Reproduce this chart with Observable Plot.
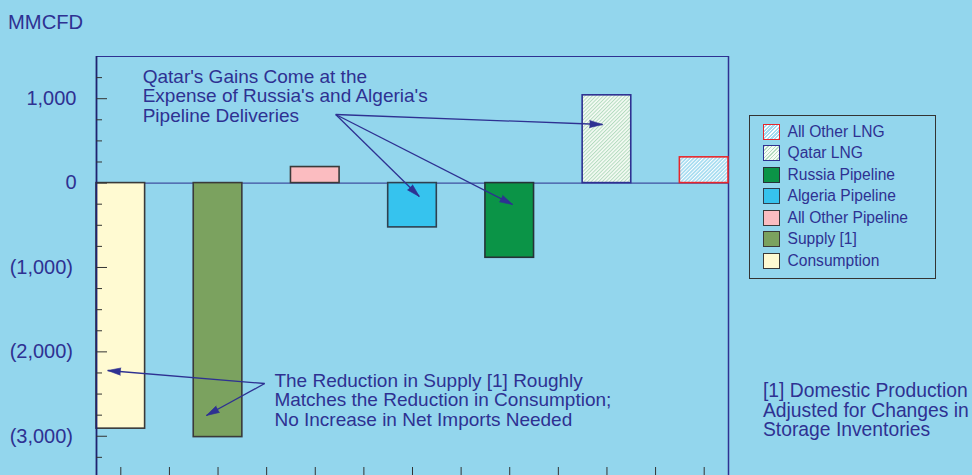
<!DOCTYPE html>
<html>
<head>
<meta charset="utf-8">
<script src="https://cdn.jsdelivr.net/npm/d3@7"></script>
<script src="https://cdn.jsdelivr.net/npm/@observablehq/plot@0.6"></script>
<style>
  html, body { margin: 0; padding: 0; background: #93d6ed; }
  #chart {
    position: relative; width: 972px; height: 475px; overflow: hidden;
    font-family: "Liberation Sans", Arial, sans-serif; color: #2e3192;
  }
  #chart svg { position: absolute; left: 0; top: 0; }
  .unit { position: absolute; left: 8px; top: 12px; font-size: 20.2px; line-height: 20px; }
  .footnote { position: absolute; left: 763px; top: 381px; font-size: 19.3px; line-height: 19.5px; white-space: nowrap; }
  .legend {
    position: absolute; left: 749px; top: 115px; width: 187px; height: 164px;
    box-sizing: border-box; border: 1.5px solid #333;
  }
  .legend .row { position: absolute; left: 12.5px; height: 21.5px; display: flex; align-items: center; font-size: 15.6px; white-space: nowrap; }
  .legend .sw { width: 17px; height: 16px; box-sizing: border-box; margin-right: 8px; }
</style>
</head>
<body>
<div id="chart"></div>
<script>
// Change in supply and disposition, MMCFD
const categories = ["Consumption", "Supply [1]", "All Other Pipeline", "Algeria Pipeline", "Russia Pipeline", "Qatar LNG", "All Other LNG"];
const changes = [-2910, -3010, 190, -525, -885, 1040, 305];

// Y axis ticks and their printed labels
const yTicks = [1000, 0, -1000, -2000, -3000];
const yTickLabels = ["1,000", "0", "(1,000)", "(2,000)", "(3,000)"];

// Text
const unitLabel = "MMCFD";
const qatarNote = ["Qatar's Gains Come at the", "Expense of Russia's and Algeria's", "Pipeline Deliveries"];
const supplyNote = ["The Reduction in Supply [1] Roughly", "Matches the Reduction in Consumption;", "No Increase in Net Imports Needed"];
const footnote = ["[1] Domestic Production", "Adjusted for Changes in", "Storage Inventories"];

// Callout anchors (x in bar slots, y in MMCFD)
const noteAnchors = [
  {x: 0.95, y: 1355, text: qatarNote.join("\n")},
  {x: 3.66, y: -2247, text: supplyNote.join("\n")}
];
const callouts = [
  {x1: 4.92, y1: 813, x2: 10.41, y2: 694},
  {x1: 4.92, y1: 813, x2: 6.64, y2: -159},
  {x1: 4.92, y1: 813, x2: 8.56, y2: -254},
  {x1: 3.46, y1: -2375, x2: 0.23, y2: -2221},
  {x1: 3.46, y1: -2375, x2: 2.26, y2: -2754}
];

// Styling
const navy = "#2e3192";
const barStyle = {
  "Consumption":        {fill: "#fffad2", stroke: "#3a3a3a", css: "#fffad2"},
  "Supply [1]":         {fill: "#7ba25f", stroke: "#3a3a3a", css: "#7ba25f"},
  "All Other Pipeline": {fill: "#fbbcc0", stroke: "#3a3a3a", css: "#fbbcc0"},
  "Algeria Pipeline":   {fill: "#36c3ee", stroke: "#2f4050", css: "#36c3ee"},
  "Russia Pipeline":    {fill: "#0b9447", stroke: "#263238", css: "#0b9447"},
  "Qatar LNG":          {fill: "url(#hatch-qatar)", stroke: navy,
                         css: "repeating-linear-gradient(135deg, #b3dbbf 0 1px, #f6fbf5 1px 2.6px)"},
  "All Other LNG":      {fill: "url(#hatch-lng)", stroke: "#e8262b",
                         css: "repeating-linear-gradient(135deg, #ffffff 0 1px, #a3dbf0 1px 2.6px)"}
};

const W = 972, H = 475;
const margin = {left: 96, right: 244, top: 56, bottom: 0};
const xDomain = [0, 2 * categories.length - 1];
const yDomain = [-3465, 1500];

// Each bar takes one slot with an empty slot between bars
const bars = categories.map((name, i) => ({name, x1: 2 * i, x2: 2 * i + 1, value: changes[i]}));
const slotCenters = d3.range(xDomain[0], xDomain[1]).map(k => k + 0.5);
const minorTicks = d3.range(-3250, 1500, 250).filter(v => v % 1000 !== 0);
const labelFor = new Map(yTicks.map((t, i) => [t, yTickLabels[i]]));
const plainTicks = yTicks.filter(t => t >= 0);
const bracketTicks = yTicks.filter(t => t < 0);

// Arrowhead rotation in screen space
const sx = Plot.scale({x: {type: "linear", domain: xDomain, range: [margin.left, W - margin.right]}});
const sy = Plot.scale({y: {type: "linear", domain: yDomain, range: [H - margin.bottom, margin.top]}});
const heads = callouts.map(d => {
  const dx = sx.apply(d.x2) - sx.apply(d.x1);
  const dy = sy.apply(d.y2) - sy.apply(d.y1);
  return {x: d.x2, y: d.y2, rotate: Math.atan2(dx, -dy) * 180 / Math.PI};
});

// Hatch fills for the LNG bars
const patterns = () => {
  const defs = d3.create("svg:defs");
  const q = defs.append("pattern").attr("id", "hatch-qatar").attr("patternUnits", "userSpaceOnUse")
    .attr("width", 2.6).attr("height", 2.6).attr("patternTransform", "rotate(45)");
  q.append("rect").attr("width", 2.6).attr("height", 2.6).attr("fill", "#f6fbf5");
  q.append("rect").attr("width", 1).attr("height", 2.6).attr("fill", "#b3dbbf");
  const l = defs.append("pattern").attr("id", "hatch-lng").attr("patternUnits", "userSpaceOnUse")
    .attr("width", 2.6).attr("height", 2.6).attr("patternTransform", "rotate(45)");
  l.append("rect").attr("width", 2.6).attr("height", 2.6).attr("fill", "#a3dbf0");
  l.append("rect").attr("width", 1).attr("height", 2.6).attr("fill", "#ffffff");
  return defs.node();
};

const chart = Plot.plot({
  width: W, height: H,
  marginLeft: margin.left, marginRight: margin.right, marginTop: margin.top, marginBottom: margin.bottom,
  x: {type: "linear", domain: xDomain, label: null},
  y: {domain: yDomain, label: null},
  color: {type: "identity"},
  style: {background: "transparent", color: navy, fontFamily: "'Liberation Sans', Arial, sans-serif", fontSize: "20px", overflow: "visible"},
  marks: [
    patterns,
    // frame: top, right and the zero line
    Plot.ruleY([yDomain[1]], {stroke: navy, strokeWidth: 1.2}),
    Plot.ruleX([xDomain[1]], {stroke: navy, strokeWidth: 1.5}),
    Plot.ruleY([0], {stroke: "#3f4fa0", strokeWidth: 1.3}),
    // bars
    Plot.rect(bars, {
      x1: "x1", x2: "x2", y1: 0, y2: "value",
      fill: d => barStyle[d.name].fill,
      stroke: d => barStyle[d.name].stroke,
      strokeWidth: 1.6
    }),
    // left axis line
    Plot.ruleX([xDomain[0]], {stroke: "#1f2370", strokeWidth: 1.8}),
    // y axis: inward ticks and bracketed negative labels
    Plot.axisY(minorTicks, {anchor: "left", tickSize: -6, tickFormat: () => "", stroke: "#333", label: null}),
    Plot.axisY(yTicks, {anchor: "left", tickSize: -11, tickFormat: () => "", stroke: "#333", label: null}),
    Plot.axisY(plainTicks, {anchor: "left", tickSize: 0, tickPadding: 20, tickFormat: d => labelFor.get(d),
                            fill: navy, fontSize: 20, label: null}),
    Plot.axisY(bracketTicks, {anchor: "left", tickSize: 0, tickPadding: 23.5, tickFormat: d => labelFor.get(d),
                              fill: navy, fontSize: 20, label: null}),
    // x axis: unlabeled ticks rising from the bottom edge
    Plot.axisX(slotCenters, {anchor: "bottom", tickSize: -8, tickFormat: () => "", stroke: "#333", label: null}),
    // callouts
    Plot.text(noteAnchors, {x: "x", y: "y", text: "text", textAnchor: "start", lineAnchor: "top",
                            lineHeight: 19.5 / 19, fontSize: 19, fill: navy}),
    Plot.link(callouts, {x1: "x1", y1: "y1", x2: "x2", y2: "y2", stroke: navy, strokeWidth: 1.3}),
    Plot.vector(heads, {x: "x", y: "y", rotate: "rotate", length: 13, r: 3.6, shape: "spike",
                        anchor: "end", fill: navy, stroke: navy, strokeWidth: 0.6})
  ]
});

const root = document.getElementById("chart");
root.appendChild(chart);

const unit = document.createElement("div");
unit.className = "unit";
unit.textContent = unitLabel;
root.appendChild(unit);

// Legend, listed top to bottom in reverse bar order
const legend = document.createElement("div");
legend.className = "legend";
[...categories].reverse().forEach((name, i) => {
  const row = document.createElement("div");
  row.className = "row";
  row.style.top = (17 + 21.5 * i - 10.75 - 1.5) + "px";
  const sw = document.createElement("div");
  sw.className = "sw";
  sw.style.background = barStyle[name].css;
  sw.style.border = "1.5px solid " + barStyle[name].stroke;
  const label = document.createElement("span");
  label.textContent = name;
  row.appendChild(sw);
  row.appendChild(label);
  legend.appendChild(row);
});
root.appendChild(legend);

const note = document.createElement("div");
note.className = "footnote";
note.innerHTML = footnote.map(s => s.replace(/&/g, "&amp;")).join("<br>");
root.appendChild(note);
</script>
</body>
</html>
